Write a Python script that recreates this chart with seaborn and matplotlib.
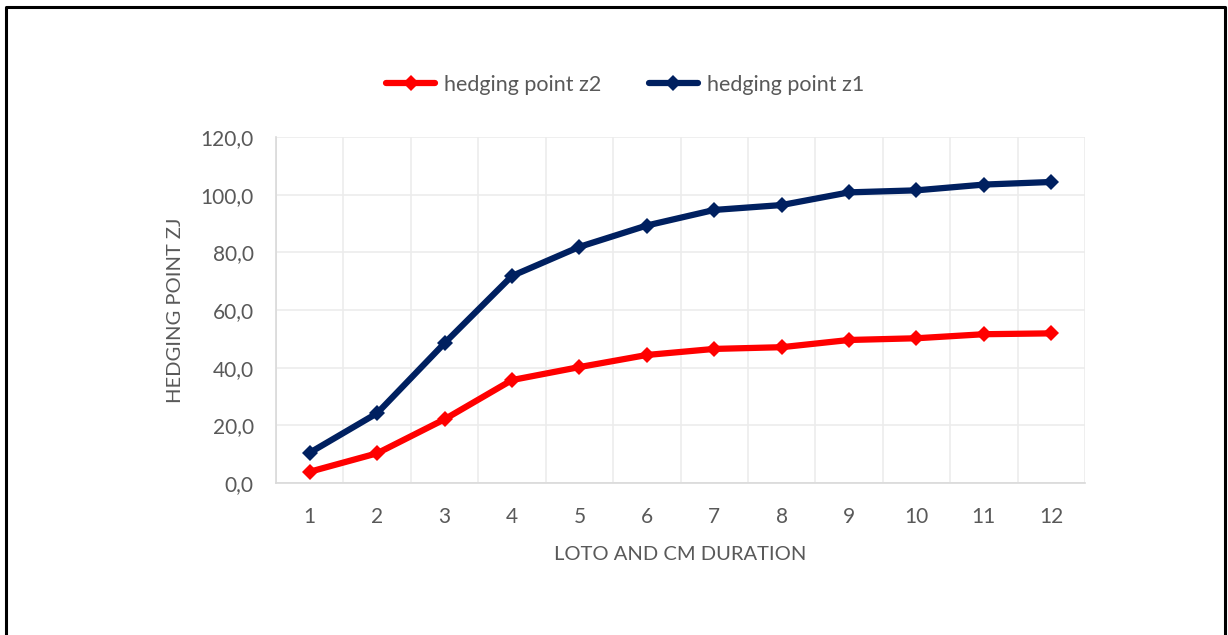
import pandas as pd
import matplotlib.pyplot as plt
import seaborn as sns
from matplotlib.lines import Line2D
from matplotlib.ticker import FuncFormatter, MultipleLocator

# values
duration = [1, 2, 3, 4, 5, 6, 7, 8, 9, 10, 11, 12]
z2_values = [3.9, 10.3, 22.1, 35.7, 40.2, 44.4, 46.5, 47.1, 49.6, 50.2, 51.6, 51.9]
z1_values = [10.5, 24.2, 48.5, 71.8, 81.9, 89.3, 94.7, 96.4, 100.8, 101.5, 103.5, 104.4]
series_names = ['hedging point z2', 'hedging point z1']
series_colors = ['#ff0000', '#002060']

df = pd.DataFrame({
    'duration': duration * 2,
    'value': z2_values + z1_values,
    'series': [series_names[0]] * len(duration) + [series_names[1]] * len(duration),
})

sns.set_style('white')
plt.rcParams['font.family'] = ['Lato', 'DejaVu Sans']
text_color = '#595959'

fig = plt.figure(figsize=(12.28, 6.35), dpi=100)
ax = fig.add_axes([276 / 1228, 1 - 483 / 635, (1085 - 276) / 1228, (483 - 137) / 635])

sns.lineplot(
    data=df, x='duration', y='value', hue='series',
    palette=dict(zip(series_names, series_colors)),
    style='series', markers={n: 'D' for n in series_names}, dashes=False,
    linewidth=4.5, markersize=8, markeredgewidth=0, legend=False, ax=ax
)

# axes and grid
ax.set_xlim(0.5, 12.5)
ax.set_ylim(0, 120)
ax.set_xticks(duration)
ax.set_xticks([d + 0.5 for d in [0] + duration], minor=True)
ax.yaxis.set_major_locator(MultipleLocator(20))
ax.yaxis.set_major_formatter(FuncFormatter(lambda v, p: f'{v:.1f}'.replace('.', ',')))
ax.grid(which='minor', axis='x', color='#ececec', linewidth=1.2)
ax.grid(which='major', axis='y', color='#ececec', linewidth=1.2)
ax.set_axisbelow(True)
ax.tick_params(axis='x', which='major', length=0, pad=17, labelsize=15, labelcolor=text_color)
ax.tick_params(axis='x', which='minor', length=4, color='#ececec', width=1.2)
ax.tick_params(axis='y', length=0, pad=16, labelsize=15, labelcolor=text_color)
for s in ['top', 'right']:
    ax.spines[s].set_visible(False)
for s in ['left', 'bottom']:
    ax.spines[s].set_color('#d9d9d9')
    ax.spines[s].set_linewidth(1.2)

ax.set_xlabel('LOTO AND CM DURATION', fontsize=14.5, color=text_color, labelpad=14)
ax.set_ylabel('HEDGING POINT ZJ', fontsize=14.5, color=text_color, labelpad=12)

# legend across the top
handles = [Line2D([], [], color=c, linewidth=4.5, marker='D', markersize=8, markeredgewidth=0)
           for c in series_colors]
leg = fig.legend(handles, series_names, loc='center', bbox_to_anchor=(625 / 1228, 1 - 85 / 635),
                 ncol=2, frameon=False, fontsize=15.5, handlelength=2.3, columnspacing=2.2,
                 handletextpad=0.4)
for t in leg.get_texts():
    t.set_color(text_color)

# black frame around the chart
frame_x = [6 / 1228, 6 / 1228, 1225 / 1228, 1225 / 1228]
frame_y = [0, 1 - 7 / 635, 1 - 7 / 635, 0]
fig.add_artist(Line2D(frame_x, frame_y, color='black', linewidth=2.2, transform=fig.transFigure))

fig.savefig('out.png', dpi=100)
